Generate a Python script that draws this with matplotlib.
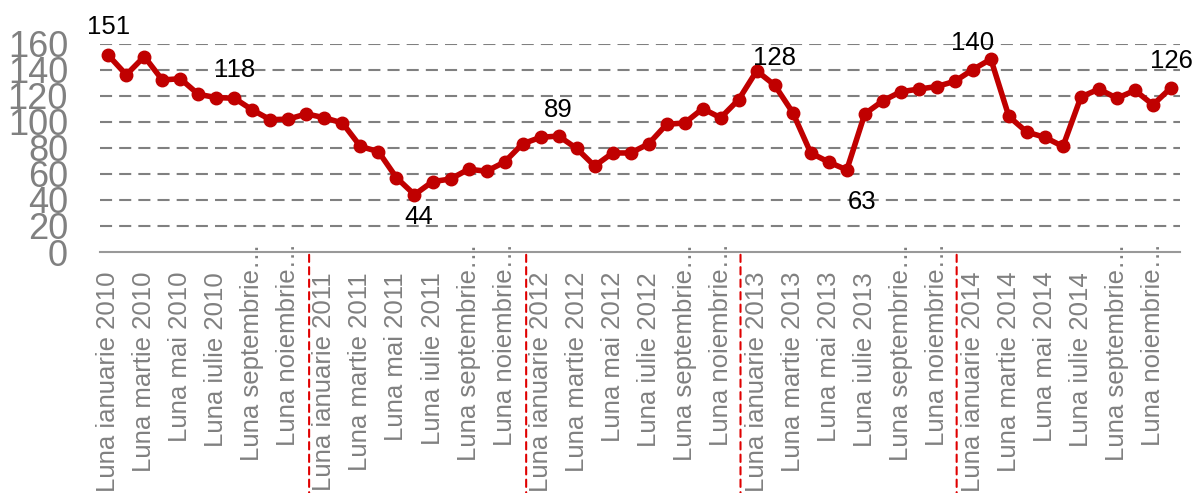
import matplotlib
matplotlib.use("Agg")
import matplotlib.pyplot as plt

# monthly values, Jan 2010 .. Dec 2014
values = [151, 136, 150, 132, 133, 121, 118.5, 118, 109, 101.5, 102, 106,
          103, 99, 81, 77, 57, 44, 54, 56, 63.5, 62, 69, 83,
          88, 89, 79.5, 66, 76, 76, 83, 98, 99, 110, 103, 117,
          139, 128, 107, 76, 69, 63, 106, 116, 123, 125, 127, 131,
          140, 148, 104, 92, 88, 81, 119, 125, 118, 124, 113, 126]
years = ["2010", "2011", "2012", "2013", "2014"]
months = ["ianuarie", "martie", "mai", "iulie", "septembrie", "noiembrie"]
# data labels: (index, text, dx px, dy px)
point_labels = [(0, "151", 0, 21), (7, "118", 0, 21), (17, "44", 4, -29),
                (25, "89", 0, 19), (37, "128", 0, 20), (41, "63", 15, -39),
                (48, "140", 0, 20), (59, "126", 0, 20)]
year_breaks = [11.15, 23.2, 35.1, 47.1]

RED = "#c00000"
GRAY = "#808080"
plt.rcParams['font.family'] = ['Liberation Sans', 'DejaVu Sans']

fig = plt.figure(figsize=(11.95, 4.93), dpi=100)
ax = fig.add_axes([100 / 1195, 1 - 252 / 493, 1080 / 1195, 208.5 / 493])

x = list(range(len(values)))
ax.plot(x, values, color=RED, lw=4, marker="o", ms=9, zorder=3, clip_on=False)

ax.set_xlim(-0.46, 59.5)
ax.set_ylim(0, 160)
ax.set_yticks(range(0, 161, 20))
ax.set_yticklabels([str(v) for v in range(0, 161, 20)], fontsize=26, color=GRAY)
ax.tick_params(axis="y", length=0, pad=23)
ax.set_xticks([])
for yv in range(20, 161, 20):
    ax.axhline(yv, color=GRAY, lw=1.5, linestyle=(0, (5.8, 3.4)), zorder=1)

for s in ["top", "right", "left"]:
    ax.spines[s].set_visible(False)
ax.spines["bottom"].set_color("#999999")
ax.spines["bottom"].set_linewidth(1.5)

# x labels every second month
for k in range(0, 60, 2):
    yr = years[k // 12]
    mname = months[(k % 12) // 2]
    if mname in ("septembrie", "noiembrie"):
        txt = "Luna " + mname + "\u2026"
        off = 6.5
    else:
        txt = "Luna " + mname + " " + yr
        off = -14.4
    ax.annotate(txt, xy=(k, 0), xycoords=("data", "axes fraction"),
                xytext=(0, off), textcoords="offset points",
                rotation=90, ha="center", va="top", fontsize=18.5,
                color=GRAY, annotation_clip=False)

for xb in year_breaks:
    ax.annotate("", xy=(xb, 0), xycoords=("data", "axes fraction"),
                xytext=(xb, -1.2), textcoords=("data", "axes fraction"),
                arrowprops=dict(arrowstyle="-", color="#e00000", lw=1.5,
                                linestyle=(0, (3.5, 2.5))),
                annotation_clip=False)

for idx, t, dx, dy in point_labels:
    ax.annotate(t, xy=(idx, values[idx]), xytext=(dx * 0.72, dy * 0.72),
                textcoords="offset points", ha="center", va="baseline",
                fontsize=18.5, color="black", annotation_clip=False)

fig.savefig("out.png", dpi=100)
